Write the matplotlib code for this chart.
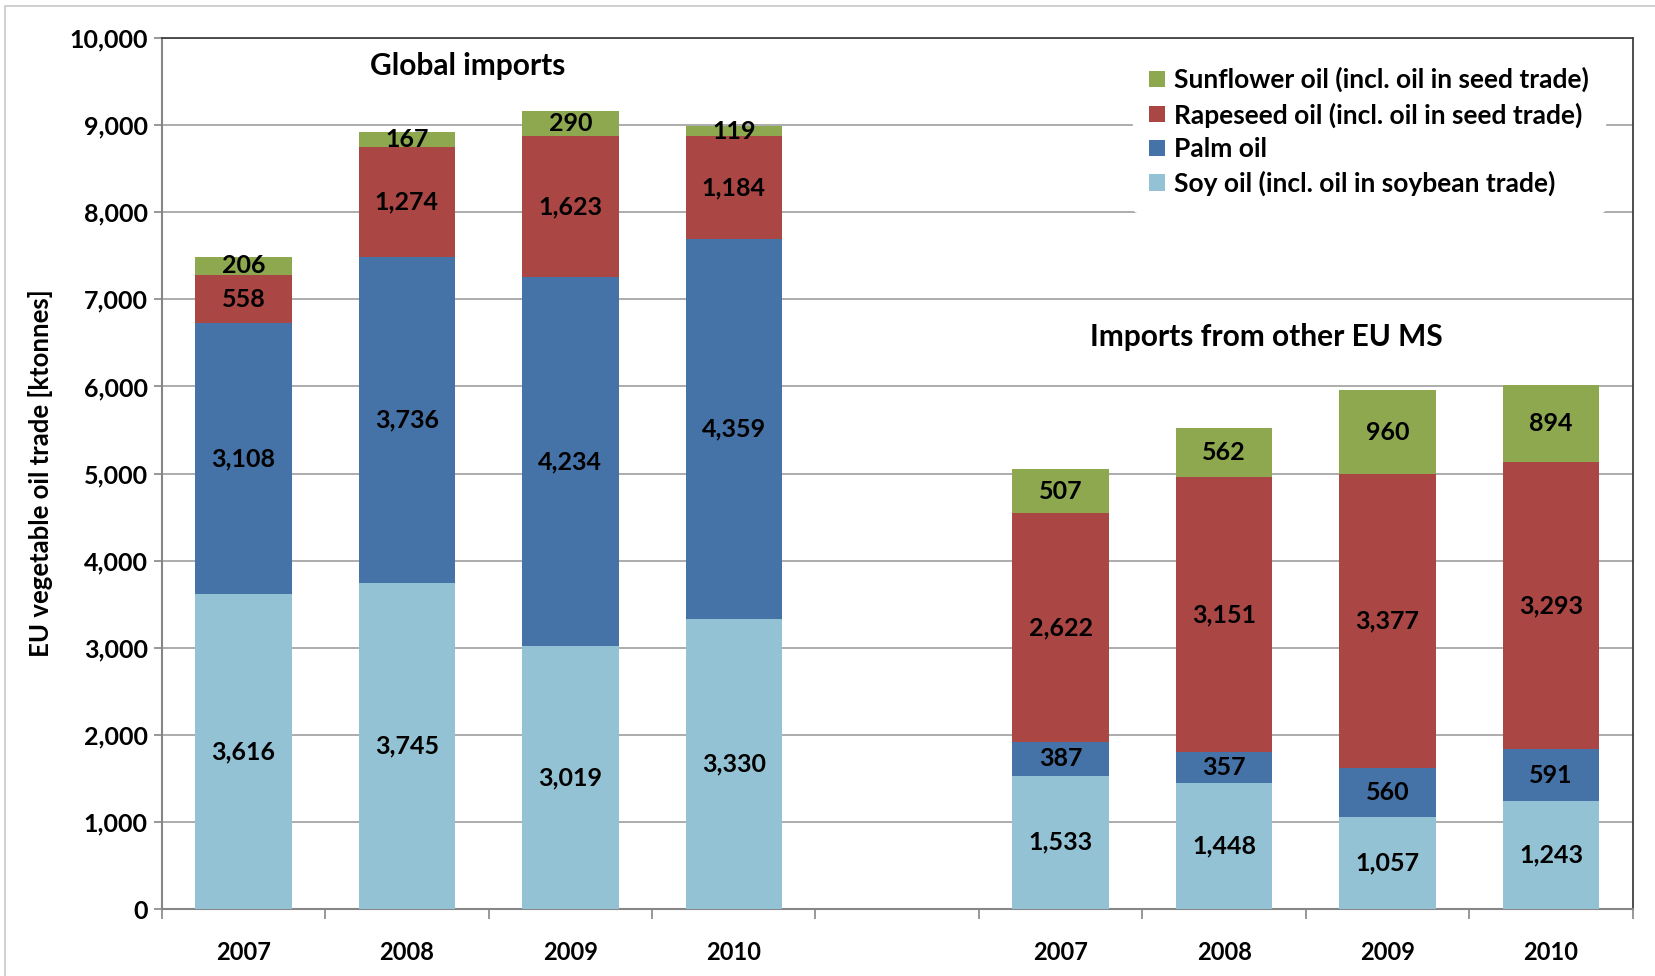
import matplotlib
matplotlib.use("Agg")
import matplotlib.pyplot as plt
from matplotlib.patches import Rectangle
from matplotlib.ticker import FuncFormatter, FixedLocator
import numpy as np

plt.rcParams['font.family'] = ['Lato', 'DejaVu Sans']
plt.rcParams['font.weight'] = 'bold'
plt.rcParams['axes.labelweight'] = 'bold'

years = ['2007', '2008', '2009', '2010']
series = ['Soy oil (incl. oil in soybean trade)', 'Palm oil',
          'Rapeseed oil (incl. oil in seed trade)', 'Sunflower oil (incl. oil in seed trade)']
colors = ['#93C2D4', '#4572A7', '#AA4644', '#8DA84E']

# global imports, ktonnes
global_soy = [3616, 3745, 3019, 3330]
global_palm = [3108, 3736, 4234, 4359]
global_rape = [558, 1274, 1623, 1184]
global_sun = [206, 167, 290, 119]

# imports from other EU member states
eu_soy = [1533, 1448, 1057, 1243]
eu_palm = [387, 357, 560, 591]
eu_rape = [2622, 3151, 3377, 3293]
eu_sun = [507, 562, 960, 894]

# slot 4 is left empty between the two groups
x_pos = [0, 1, 2, 3, 5, 6, 7, 8]
x_labels = years + years
stack = [global_soy + eu_soy, global_palm + eu_palm,
         global_rape + eu_rape, global_sun + eu_sun]

fig = plt.figure(figsize=(16.56, 9.76), dpi=100)
ax = fig.add_axes([0.0976, 0.0686, 0.8884, 0.8924])

bottom = np.zeros(len(x_pos))
handles = []
for vals, col, name in zip(stack, colors, series):
    vals = np.array(vals)
    bars = ax.bar(x_pos, vals, width=0.59, bottom=bottom, color=col, label=name, zorder=3)
    handles.append(bars)
    for xp, b, v in zip(x_pos, bottom, vals):
        ax.text(xp, b + v / 2, f'{v:,}', ha='center', va='center', fontsize=18,
                fontweight='bold', zorder=4)
    bottom += vals

ax.set_xlim(-0.5, 8.5)
ax.set_ylim(0, 10000)
ax.set_yticks(np.arange(0, 10001, 1000))
ax.yaxis.set_major_formatter(FuncFormatter(lambda v, p: f'{int(v):,}'))
ax.yaxis.grid(True, color='#A6A6A6', linewidth=1.3, zorder=0)

ax.set_xticks(x_pos)
ax.set_xticklabels(x_labels, fontweight='bold')
ax.tick_params(axis='x', which='major', length=0, pad=23, labelsize=17)
ax.xaxis.set_minor_locator(FixedLocator(np.arange(-0.5, 9, 1)))
ax.tick_params(axis='x', which='minor', length=7, width=1.2, color='#868686', direction='out')
ax.tick_params(axis='y', length=6, width=1.2, color='#868686', labelsize=18, pad=4)
for lbl in ax.get_yticklabels():
    lbl.set_fontweight('bold')

for side in ['left', 'bottom']:
    ax.spines[side].set_color('#868686')
    ax.spines[side].set_linewidth(1.5)
for side in ['top', 'right']:
    ax.spines[side].set_color('#404040')
    ax.spines[side].set_linewidth(1.3)

ax.set_ylabel('EU vegetable oil trade [ktonnes]', fontsize=18.5, fontweight='bold', labelpad=12)

ax.text(1.37, 9680, 'Global imports', ha='center', va='center', fontsize=21.5, fontweight='bold')
ax.text(6.26, 6570, 'Imports from other EU MS', ha='center', va='center', fontsize=21.5,
        fontweight='bold')

leg = ax.legend(handles[::-1], series[::-1], loc='upper right', bbox_to_anchor=(0.99, 1.0),
                prop={'size': 19, 'weight': 'bold'}, frameon=True, framealpha=1,
                edgecolor='white', handlelength=0.6, handleheight=0.6, handletextpad=0.35,
                labelspacing=0.37, borderpad=0.6)
leg.set_zorder(5)

fig.patches.append(Rectangle((5 / 1656, -0.01), 1.02, 1 - 6 / 976 + 0.01,
                             transform=fig.transFigure, fill=False,
                             edgecolor='#C8C8C8', linewidth=1.2))

fig.savefig('out.png', dpi=100)
